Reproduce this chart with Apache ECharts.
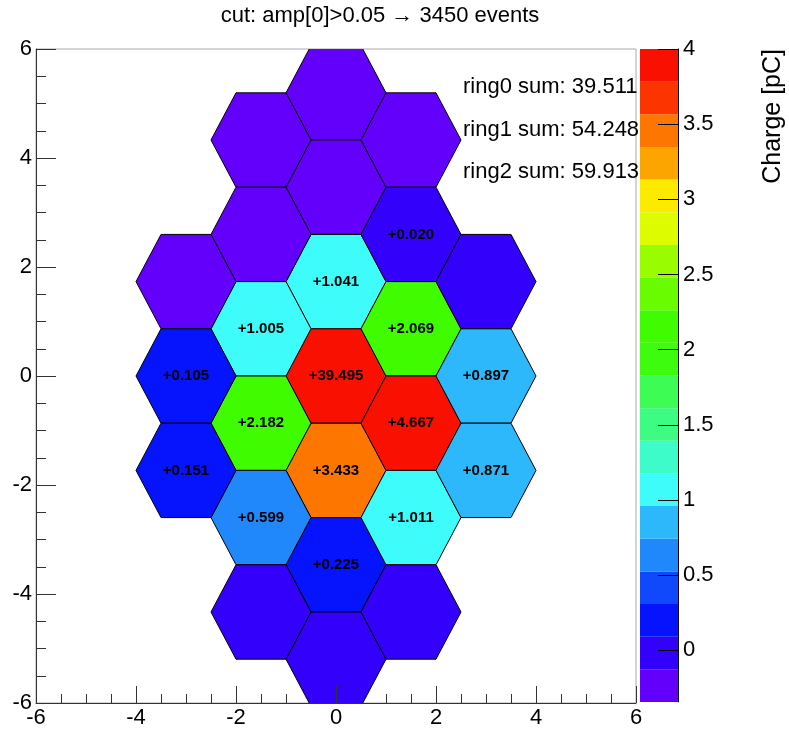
<!DOCTYPE html>
<html>
<head>
<meta charset="utf-8">
<script src="https://cdn.jsdelivr.net/npm/echarts@6/dist/echarts.min.js"></script>
<style>
html,body{margin:0;padding:0;background:#ffffff;}
#chart{width:789px;height:733px;}
</style>
</head>
<body>
<div id="chart"></div>
<script>
// ---- data ----
const cellX = [0, 0, 0, 0, 0, 0, 0,
  -1.5, -1.5, -1.5, -1.5, -1.5, -1.5,
  1.5, 1.5, 1.5, 1.5, 1.5, 1.5,
  -3, -3, -3,
  3, 3, 3];
const cellY = [5.196, 3.464, 1.732, 0, -1.732, -3.464, -5.196,
  4.330, 2.598, 0.866, -0.866, -2.598, -4.330,
  4.330, 2.598, 0.866, -0.866, -2.598, -4.330,
  1.732, 0, -1.732,
  1.732, 0, -1.732];
const cellValue = [-0.25, -0.18, 1.041, 39.495, 3.433, 0.225, 0,
  -0.20, -0.21, 1.005, 2.182, 0.599, 0,
  -0.22, 0.020, 2.069, 4.667, 1.011, 0,
  -0.344, 0.105, 0.151,
  0, 0.897, 0.871];
const zRange = [-0.344, 4];
const nContours = 20;
const paletteColors = ['#6200fc','#3300fc','#0514fc','#1048fc','#2188fc','#2db8fc','#3dfcf9','#3dfcc9','#3dfc83','#3dfc54',
  '#3dfc0e','#3ffc00','#69fc00','#99fc00','#defc00','#fceb00','#fca500','#fc7600','#fc3400','#fa1000'];
const axisRange = [-6, 6];
const colorbarTicks = [0, 0.5, 1, 1.5, 2, 2.5, 3, 3.5, 4];
const ringLabels = ['ring0 sum: 39.511', 'ring1 sum: 54.248', 'ring2 sum: 59.913'];
const titleText = 'cut: amp[0]>0.05 \u2192 3450 events';
const zTitle = 'Charge [pC]';
const hexRadius = 1;

// ---- helpers ----
const FONT = '"Liberation Sans", Arial, Helvetica, sans-serif';
const zStep = (zRange[1] - zRange[0]) / nContours;
function colorFor(v) {
  let idx = Math.floor((v - zRange[0]) / zStep);
  if (idx < 0) idx = 0;
  if (idx > nContours - 1) idx = nContours - 1;
  return paletteColors[idx];
}
const hexData = cellX.map((x, i) => [x, cellY[i], cellValue[i]]);
const bandData = paletteColors.map((c, i) => [i]);

function renderHex(params, api) {
  const cx = api.value(0), cy = api.value(1), v = api.value(2);
  const pts = [];
  for (let k = 0; k < 6; k++) {
    const a = Math.PI / 3 * k;
    pts.push(api.coord([cx + hexRadius * Math.cos(a), cy + hexRadius * Math.sin(a)]));
  }
  const c = api.coord([cx, cy]);
  const children = [{
    type: 'polygon',
    shape: { points: pts },
    style: { fill: colorFor(v), stroke: '#000', lineWidth: 1 }
  }];
  if (v > 0) {
    children.push({
      type: 'text', x: c[0], y: c[1],
      style: {
        text: '+' + v.toFixed(3), fill: '#000',
        font: 'bold 15px ' + FONT, align: 'center', verticalAlign: 'middle'
      }
    });
  }
  return { type: 'group', children: children };
}

function renderBand(params, api) {
  const i = api.value(0);
  const lo = zRange[0] + i * zStep, hi = lo + zStep;
  const p1 = api.coord([0, hi]);
  const p2 = api.coord([1, lo]);
  return {
    type: 'rect',
    shape: { x: p1[0], y: p1[1], width: p2[0] - p1[0], height: p2[1] - p1[1] },
    style: { fill: paletteColors[i] }
  };
}

const chart = echarts.init(document.getElementById('chart'), null, { renderer: 'canvas' });
const axisCommon = {
  type: 'value', min: axisRange[0], max: axisRange[1], interval: 2,
  axisLine: { show: true, onZero: false, lineStyle: { color: '#333', width: 1 } },
  splitLine: { show: false },
  axisLabel: { color: '#000', fontSize: 22, fontFamily: FONT, margin: 4, showMinLabel: true, showMaxLabel: true }
};
chart.setOption({
  animation: false,
  backgroundColor: '#ffffff',
  grid: [
    { left: 36, top: 49, width: 600, height: 654, show: true, borderColor: '#aaaaaa', borderWidth: 1, backgroundColor: 'transparent' },
    { left: 640, top: 49, width: 38, height: 653, show: false }
  ],
  xAxis: [
    Object.assign({}, axisCommon, {
      gridIndex: 0, z: 5,
      axisTick: { show: true, inside: true, length: 17, lineStyle: { color: '#333' } },
      minorTick: { show: true, splitNumber: 4, length: 9, lineStyle: { color: '#333' } }
    }),
    { type: 'value', gridIndex: 1, min: 0, max: 1, show: false }
  ],
  yAxis: [
    Object.assign({}, axisCommon, {
      gridIndex: 0, z: 5,
      axisTick: { show: true, inside: true, length: 20, lineStyle: { color: '#333' } },
      minorTick: { show: true, splitNumber: 4, length: 10, lineStyle: { color: '#333' } }
    }),
    {
      type: 'value', gridIndex: 1, position: 'right', min: zRange[0], max: zRange[1], z: 10,
      axisLine: { show: true, onZero: false, lineStyle: { color: '#000', width: 1 } },
      axisTick: { show: true, inside: true, length: 20, customValues: colorbarTicks, lineStyle: { color: '#000' } },
      axisLabel: { color: '#000', fontSize: 22, fontFamily: FONT, margin: 5, customValues: colorbarTicks },
      splitLine: { show: false }
    }
  ],
  series: [
    {
      type: 'custom', xAxisIndex: 0, yAxisIndex: 0, clip: true,
      data: hexData, renderItem: renderHex, z: 2
    },
    {
      type: 'custom', xAxisIndex: 1, yAxisIndex: 1,
      data: bandData, renderItem: renderBand, z: 1
    }
  ],
  graphic: [
    { type: 'text', x: 380, y: 16, style: { text: titleText, font: '22px ' + FONT, fill: '#000', align: 'center', verticalAlign: 'middle' } },
    { type: 'text', x: 463, y: 87, style: { text: ringLabels[0], font: '22px ' + FONT, fill: '#000', align: 'left', verticalAlign: 'middle' } },
    { type: 'text', x: 463, y: 130, style: { text: ringLabels[1], font: '22px ' + FONT, fill: '#000', align: 'left', verticalAlign: 'middle' } },
    { type: 'text', x: 463, y: 172, style: { text: ringLabels[2], font: '22px ' + FONT, fill: '#000', align: 'left', verticalAlign: 'middle' } },
    { type: 'text', x: 773, y: 49, rotation: Math.PI / 2, style: { text: zTitle, font: '25px ' + FONT, fill: '#000', align: 'right', verticalAlign: 'middle' } }
  ]
});
</script>
</body>
</html>
